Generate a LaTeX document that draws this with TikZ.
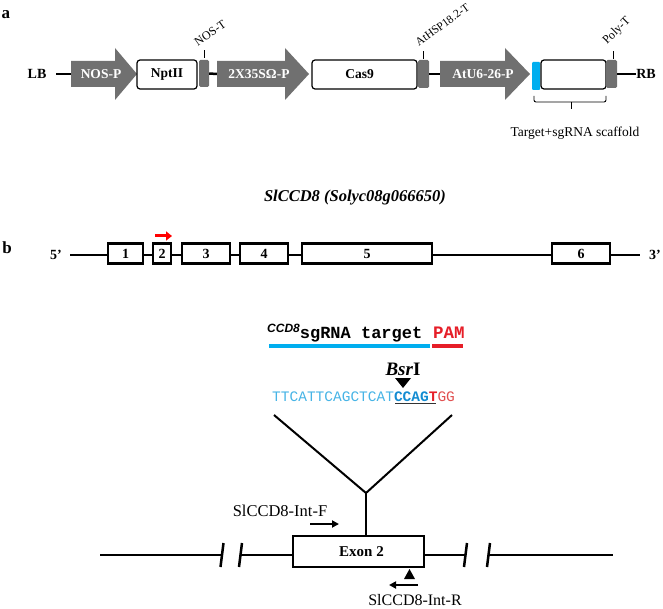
\documentclass[tikz,border=0pt]{standalone}
\usepackage{fontspec}
\setmainfont{Liberation Serif}
\setmonofont{Liberation Mono}
\newfontfamily\arialf{Liberation Sans}
\usetikzlibrary{arrows.meta}
\definecolor{dgray}{RGB}{112,112,112}
\definecolor{cyanb}{RGB}{0,174,239}
\definecolor{seqblue}{RGB}{70,180,230}
\definecolor{darkblue}{RGB}{20,140,210}
\definecolor{pamred}{RGB}{230,30,40}
\definecolor{ggred}{RGB}{225,80,80}
\newcommand{\fsz}[1]{\fontsize{#1}{#1}\selectfont}
\begin{document}
\begin{tikzpicture}[x=1pt,y=-1pt,
  txt/.style={inner sep=0pt},
  boldlbl/.style={inner sep=0pt, font=\fsz{14}\bfseries},
  arrtxt/.style={inner sep=0pt, font=\fsz{13.5}\bfseries, text=white},
  rotlbl/.style={inner sep=0pt, font=\fsz{12}, anchor=south west},
  cbox/.style={draw, fill=white, line width=1.2pt, rounded corners=3pt, inner sep=0pt, font=\fsz{13.5}\bfseries},
  gbox/.style={fill=dgray, rounded corners=1.5pt, inner sep=0pt},
  conn/.style={line width=2.5pt},
  tick/.style={line width=1pt},
  exbox/.style={draw, fill=white, line width=2.5pt, inner sep=0pt, minimum height=20pt, font=\fsz{14}\bfseries},
  gline/.style={line width=2pt},
  primer/.style={line width=2pt, -{Triangle[length=7pt,width=7pt]}}
]
\useasboundingbox[fill=white] (0,0) rectangle (663,609);

% ---------------- panel a ----------------
\node[txt, font=\fsz{17}\bfseries] (pa) at (6,15) {a};
\node[boldlbl] (lb) at (37,74) {LB};
\coordinate (lbe) at (56,74);
\coordinate (a1s) at (71,74);
\draw[conn] (lbe) -- (a1s);
\fill[dgray] (71,61) -- (115,61) -- (115,48) -- (137,74) -- (115,100) -- (115,87) -- (71,87) -- cycle;
\node[arrtxt] (nosp) at (101,74) {NOS-P};
\node[cbox, minimum width=60pt, minimum height=29pt] (npt) at (167,74.5) {NptII};
\node[gbox, minimum width=10pt, minimum height=27pt] (nost) at (204,73.5) {};
\draw[tick] (nost.north) ++(0,-2) coordinate (t1) -- ++(0,-8);
\node[rotlbl, rotate=35] (nostl) at (198,47) {NOS-T};
\coordinate (a2s) at (217,74);
\draw[conn] (nost.east) -- (a2s);
\fill[dgray] (217,61) -- (285,61) -- (285,48) -- (309,74) -- (285,100) -- (285,87) -- (217,87) -- cycle;
\node[arrtxt] (p35s) at (259,74) {2X35SΩ-P};
\node[cbox, minimum width=105pt, minimum height=29pt] (cas) at (364.5,74.5) {\hspace*{-10pt}Cas9};
\node[gbox, minimum width=11pt, minimum height=28pt] (hsp) at (423.5,74) {};
\draw[tick] (hsp.north) ++(0,-1) -- ++(0,-8);
\node[rotlbl, rotate=36, font=\fsz{11.5}] (hspl) at (419,47) {AtHSP18.2-T};
\coordinate (a3s) at (440,74);
\draw[conn] (hsp.east) -- (a3s);
\fill[dgray] (440,61) -- (505,61) -- (505,48) -- (530,74) -- (505,100) -- (505,87) -- (440,87) -- cycle;
\node[arrtxt] (u6) at (483,74) {AtU6-26-P};
\node[fill=cyanb, rounded corners=1pt, minimum width=8pt, minimum height=28pt, inner sep=0pt] (tgt) at (536,76) {};
\node[cbox, minimum width=65pt, minimum height=29pt] (scaf) at (573.5,74.5) {};
\node[gbox, minimum width=11pt, minimum height=28pt] (polyt) at (611.5,74) {};
\draw[tick] (polyt.north) ++(1.5,-1) -- ++(0,-8);
\node[rotlbl, rotate=45] (polytl) at (609,47) {Poly-T};
\node[boldlbl, font=\fsz{14}\bfseries] (rb) at (646,74) {RB};
\draw[conn] (polyt.east) -- (rb.west);
\draw[line width=0.9pt, rounded corners=2pt] (534,96) -- (534,102) -- (606,102) -- (606,96);
\draw[line width=0.9pt] (571,102) -- (571,109);
\node[txt, font=\fsz{13.5}] (tsl) at (575,133) {Target+sgRNA scaffold};

% ---------------- panel b ----------------
\node[txt, font=\fsz{16.5}\bfseries\itshape] (title) at (355,198) {SlCCD8 (Solyc08g066650)};
\node[txt, font=\fsz{17}\bfseries] (pb) at (7,248) {b};
\node[boldlbl] (p5) at (56,255) {5’};
\node[boldlbl] (p3) at (655,255) {3’};
\coordinate (g5) at (70,255);
\coordinate (g3) at (640,255);
\draw[gline] (g5) -- (g3);
\node[exbox, minimum width=35pt] (e1) at (125.5,253.5) {1};
\node[exbox, minimum width=18pt] (e2) at (162,253.5) {2};
\node[exbox, minimum width=48pt] (e3) at (206,253.5) {3};
\node[exbox, minimum width=48pt] (e4) at (264,253.5) {4};
\node[exbox, minimum width=130pt] (e5) at (367,253.5) {5};
\node[exbox, minimum width=58pt] (e6) at (581,253.5) {6};
\coordinate (ra1) at (155,236);
\coordinate (ra2) at (172,236);
\draw[red, line width=3pt, -{Triangle[length=6pt,width=9pt]}] (ra1) -- (ra2);

\node[txt, anchor=base west] (sg) at (267,338) {{\arialf\bfseries\itshape\fsz{12}\raisebox{6pt}{CCD8}}{\ttfamily\bfseries\fsz{17}sgRNA target}};
\node[txt, anchor=base west, text=pamred, font=\ttfamily\bfseries\fsz{17.5}] (pam) at (433,338) {PAM};
\coordinate (bl1) at (269,346);
\coordinate (bl2) at (430,346);
\coordinate (rl1) at (432,346);
\coordinate (rl2) at (463,346);
\draw[cyanb, line width=4pt] (bl1) -- (bl2);
\draw[pamred, line width=4pt] (rl1) -- (rl2);
\node[txt, font=\fsz{19}\bfseries] (bsr) at (403,369) {\textit{Bsr}I};
\fill (395,378) -- (411,378) -- (403,388) -- cycle;
\node[txt, anchor=west, font=\ttfamily\fsz{14.5}] (seq) at (272,397) {\textcolor{seqblue}{TTCATTCAGCTCAT}\textcolor{darkblue}{\bfseries CCAG}\textcolor{pamred}{\bfseries T}\textcolor{ggred}{GG}};
\coordinate (ul1) at (395,403.5);
\coordinate (ul2) at (436,403.5);
\draw[line width=1.3pt, black!80] (ul1) -- (ul2);

\coordinate (vl) at (274,415);
\coordinate (vr) at (452,415);
\coordinate (apex) at (366,493);
\draw[gline] (vl) -- (apex) -- (vr);
\node[exbox, minimum width=131pt, minimum height=31pt, font=\fsz{15}\bfseries] (ex2) at (358.5,551.5) {\hspace*{6pt}Exon 2};
\draw[gline] (apex) -- (apex |- ex2.north);

\coordinate (ll1) at (100,555);
\coordinate (ll2) at (222,555);
\coordinate (lm1) at (240,555);
\coordinate (rm2) at (465.5,555);
\coordinate (rr1) at (488.5,555);
\coordinate (rr2) at (613,555);
\draw[conn] (ll1) -- (ll2);
\draw[conn] (lm1) -- (ex2.west |- lm1);
\draw[conn] (ex2.east |- rm2) -- (rm2);
\draw[conn] (rr1) -- (rr2);
\draw[conn] (223.5,543) -- (220.5,567);
\draw[conn] (242,543) -- (239,567);
\draw[conn] (467,543) -- (464,567);
\draw[conn] (490,543) -- (487,567);

\node[txt, font=\fsz{16.5}] (intf) at (280,511) {SlCCD8-Int-F};
\coordinate (f1) at (310,524);
\coordinate (f2) at (339,524);
\draw[primer] (f1) -- (f2);
\fill (404,579) -- (415,579) -- (409.5,569) -- cycle;
\coordinate (r1) at (418,585);
\coordinate (r2) at (389,585);
\draw[primer] (r1) -- (r2);
\node[txt, font=\fsz{16}] (intr) at (415,600) {SlCCD8-Int-R};
\end{tikzpicture}
\end{document}
